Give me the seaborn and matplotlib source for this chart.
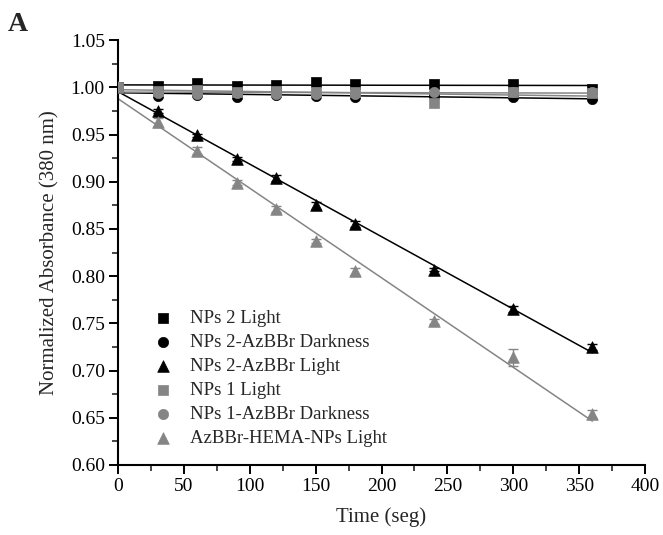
import numpy as np
import pandas as pd
import matplotlib
matplotlib.use("Agg")
import matplotlib.pyplot as plt
import seaborn as sns
from matplotlib.ticker import MultipleLocator

time = [0, 30, 60, 90, 120, 150, 180, 240, 300, 360]
series_names = ["NPs 2 Light", "NPs 2-AzBBr Darkness", "NPs 2-AzBBr Light",
                "NPs 1 Light", "NPs 1-AzBBr Darkness", "AzBBr-HEMA-NPs Light"]
nps2_light = [1.000, 1.001, 1.005, 1.001, 1.002, 1.006, 1.003, 1.003, 1.004, 0.998]
nps2_azbbr_dark = [1.000, 0.991, 0.992, 0.990, 0.992, 0.991, 0.990, 0.991, 0.990, 0.988]
nps2_azbbr_light = [1.000, 0.975, 0.949, 0.924, 0.904, 0.875, 0.855, 0.807, 0.765, 0.725]
nps1_light = [1.000, 0.996, 0.997, 0.995, 0.996, 0.995, 0.995, 0.983, 0.995, 0.994]
nps1_azbbr_dark = [1.000, 0.994, 0.993, 0.994, 0.993, 0.993, 0.993, 0.995, 0.995, 0.995]
hema_light = [1.000, 0.963, 0.933, 0.899, 0.871, 0.837, 0.805, 0.752, 0.714, 0.654]

err_nps2_azbbr_light = [0.002, 0.002, 0.002, 0.002, 0.003, 0.004, 0.003, 0.002, 0.003, 0.003]
err_hema_light = [0.002, 0.005, 0.004, 0.003, 0.003, 0.002, 0.004, 0.003, 0.009, 0.004]

values = [nps2_light, nps2_azbbr_dark, nps2_azbbr_light, nps1_light, nps1_azbbr_dark, hema_light]
errors = [None, None, err_nps2_azbbr_light, None, None, err_hema_light]
colors = ["black", "black", "black", "#858585", "#858585", "#858585"]
markers = ["s", "o", "^", "s", "o", "^"]

sns.set_style("ticks")
plt.rcParams["font.family"] = ["Liberation Serif", "DejaVu Serif"]

fig = plt.figure(figsize=(6.63, 5.35), dpi=100)
ax = fig.add_axes([0.178, 0.131, 0.795, 0.794])

for name, vals, col in zip(series_names, values, colors):
    df = pd.DataFrame({"t": time, "v": vals})
    sns.regplot(data=df, x="t", y="v", ax=ax, scatter=False, ci=None, truncate=True,
                line_kws=dict(color=col, lw=1.1, zorder=2))

for name, vals, err, col, mk in zip(series_names, values, errors, colors, markers):
    if err is not None:
        ax.errorbar(time, vals, yerr=err, fmt="none", ecolor=col, elinewidth=1,
                    capsize=3.5, capthick=1, zorder=3)
    df = pd.DataFrame({"t": time, "v": vals})
    sns.scatterplot(data=df, x="t", y="v", ax=ax, marker=mk, color=col,
                    s=70 if mk == "^" else 55, edgecolor=col, linewidth=0.5,
                    label=name, zorder=4)

ax.set_xlim(0, 400)
ax.set_ylim(0.60, 1.05)
ax.xaxis.set_major_locator(MultipleLocator(50))
ax.xaxis.set_minor_locator(MultipleLocator(25))
ax.yaxis.set_major_locator(MultipleLocator(0.05))
ax.yaxis.set_minor_locator(MultipleLocator(0.025))
ax.yaxis.set_major_formatter(matplotlib.ticker.FormatStrFormatter("%.2f"))
ax.tick_params(which="major", direction="out", length=6.5, width=1.4, labelsize=14,
               colors="black", pad=3)
ax.tick_params(which="minor", direction="out", length=4, width=1.2)
for sp in ["top", "right"]:
    ax.spines[sp].set_visible(False)
for sp in ["left", "bottom"]:
    ax.spines[sp].set_linewidth(1.5)
    ax.spines[sp].set_color("black")

ax.set_xlabel("Time (seg)", fontsize=15, labelpad=9)
ax.set_ylabel("Normalized Absorbance (380 nm)", fontsize=15, labelpad=8)

leg = ax.legend(loc="lower left", bbox_to_anchor=(0.035, 0.025), frameon=False,
                fontsize=13.5, handletextpad=0.45, labelspacing=0.36, borderaxespad=0)

fig.text(0.011, 0.978, "A", fontsize=20, fontweight="bold", va="top")

fig.savefig("out.png", dpi=100)
